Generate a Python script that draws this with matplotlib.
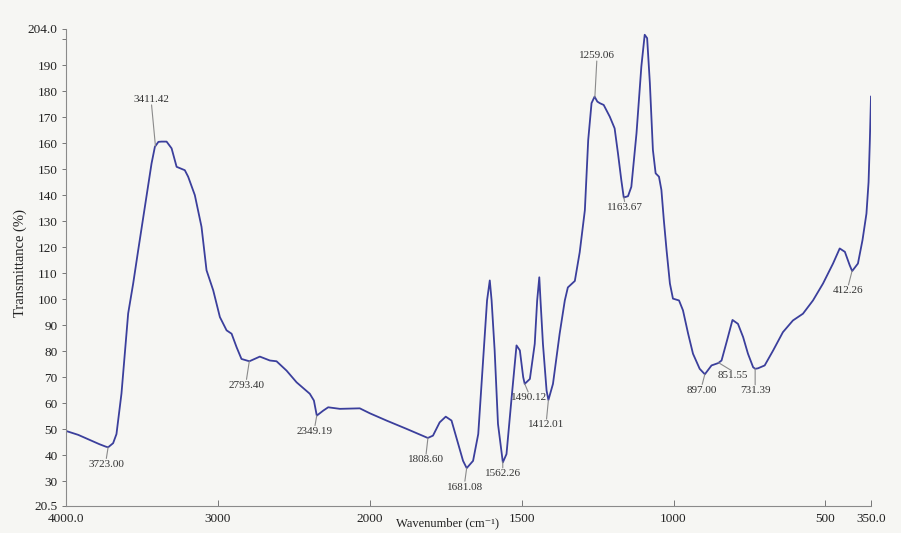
import numpy as np
import matplotlib
matplotlib.use("Agg")
import matplotlib.pyplot as plt

# FTIR spectrum
wavenumber = [4000, 3920, 3850, 3780, 3740, 3723, 3690, 3668, 3635, 3613, 3591, 3558,
              3525, 3481, 3437, 3415, 3392, 3371, 3338, 3305, 3272, 3218, 3196, 3152,
              3108, 3075, 3031, 2987, 2943, 2910, 2877, 2845, 2793, 2724, 2658, 2614,
              2548, 2482, 2395, 2368, 2349, 2307, 2274, 2197, 2066, 2000, 1945, 1879,
              1809, 1792, 1770, 1750, 1731, 1715, 1693, 1681, 1660, 1643, 1632, 1621,
              1614, 1605, 1599, 1589, 1578, 1562, 1550, 1534, 1517, 1506, 1495, 1490,
              1473, 1457, 1449, 1442, 1438, 1430, 1418, 1412, 1397, 1375, 1358, 1348,
              1325, 1309, 1292, 1281, 1270, 1260, 1251, 1243, 1230, 1210, 1194, 1183,
              1172, 1164, 1150, 1139, 1122, 1106, 1095, 1087, 1078, 1068, 1059, 1048,
              1040, 1032, 1023, 1012, 1002, 982, 969, 952, 936, 914, 897, 875, 853, 842,
              824, 806, 788, 771, 755, 738, 731, 722, 700, 672, 640, 607, 574, 541, 508,
              475, 453, 436, 420, 412, 393, 378, 365, 358, 354, 350]
transmittance = [49.3, 47.8, 46.0, 44.2, 43.3, 43.0, 44.6, 48.1, 63.7, 79.1, 94.5, 106.0,
                 118.8, 135.5, 152.2, 158.6, 160.5, 160.6, 160.6, 158.0, 150.9, 149.6, 147.1, 140.0,
                 127.8, 111.1, 103.4, 93.1, 88.0, 86.7, 81.5, 77.0, 76.1, 77.9, 76.4, 76.1,
                 72.5, 68.0, 63.6, 61.0, 55.2, 57.1, 58.4, 57.8, 58.0, 56.1, 53.3, 50.1,
                 46.6, 47.5, 52.6, 54.8, 53.3, 46.8, 37.8, 35.0, 37.8, 48.1, 67.4, 86.7,
                 99.5, 107.2, 99.5, 80.3, 52.0, 37.2, 40.4, 61.0, 82.2, 80.3, 70.0, 67.4,
                 69.3, 82.8, 99.5, 108.4, 99.5, 82.8, 64.8, 61.2, 67.4, 86.7, 99.5, 104.5,
                 107.0, 118.0, 134.2, 161.2, 175.4, 177.9, 176.0, 175.4, 174.7, 170.2, 165.7, 156.1,
                 145.8, 139.1, 139.6, 143.2, 163.8, 189.5, 201.7, 200.4, 183.1, 157.4, 148.4, 147.1,
                 142.0, 130.4, 118.8, 106.0, 100.2, 99.5, 95.7, 86.7, 79.0, 73.2, 71.1, 74.5, 75.4, 76.4,
                 84.1, 92.0, 90.5, 85.4, 79.0, 73.8, 73.2, 73.4, 74.5, 80.3, 87.3, 91.8, 94.4, 99.5, 106.0,
                 113.7, 119.5, 118.2, 113.0, 110.8, 113.7, 122.7, 132.9, 145.0, 160.0, 177.9]

# labelled peaks: position, text offset from the curve (pixels)
peak_pos = [3723.00, 3411.42, 2793.40, 2349.19, 1808.60, 1681.08, 1562.26, 1490.12,
            1412.01, 1259.06, 1163.67, 897.00, 851.55, 731.39, 412.26]
peak_dx = [-2, -4, -3, -2, -2, -2, 0, 4, -2, 2, 1, -3, 14, 0, -4]
peak_dy = [-17, 47, -24, -16, -22, -19, -12, -14, -25, 42, -10, -16, -13, -22, -20]

x_ticks = [4000, 3000, 2000, 1500, 1000, 500, 350]
x_ticklabels = ["4000.0", "3000", "2000", "1500", "1000", "500", "350.0"]
y_ticks = [20.5, 30, 40, 50, 60, 70, 80, 90, 100, 110, 120, 130, 140, 150, 160, 170, 180, 190, 204.0]
y_ticklabels = ["20.5"] + [str(v) for v in y_ticks[1:-1]] + ["204.0"]


# scale change at 2000 cm-1 (upper range compressed by 2)
def fwd(w):
    w = np.asarray(w, dtype=float)
    return np.where(w > 2000, 2000 + (w - 2000) / 2, w)


def inv(p):
    p = np.asarray(p, dtype=float)
    return np.where(p > 2000, 2000 + 2 * (p - 2000), p)


plt.rcParams["font.family"] = ["Liberation Serif", "DejaVu Serif"]

fig = plt.figure(figsize=(9.01, 5.33), dpi=100, facecolor="#f6f6f3")
ax = fig.add_axes([0.0733, 0.051, 0.8934, 0.895])
ax.set_facecolor("#f6f6f3")
ax.set_xscale("function", functions=(fwd, inv))

ax.plot(wavenumber, transmittance, color="#3b3f9c", lw=1.3)

ax.set_xlim(4000, 350)
ax.set_ylim(20.5, 204.0)
ax.set_xticks(x_ticks)
ax.set_xticklabels(x_ticklabels)
ax.set_yticks(y_ticks)
ax.set_yticklabels(y_ticklabels)
ax.set_yticks([200], minor=True)
ax.xaxis.set_minor_locator(matplotlib.ticker.NullLocator())

ax.tick_params(axis="x", direction="in", length=4, width=0.7, color="#777777",
               labelsize=9.5, pad=5, labelcolor="#222222")
ax.tick_params(axis="y", direction="out", length=3, width=0.7, color="#777777",
               labelsize=9.5, pad=3, labelcolor="#222222")
ax.tick_params(axis="y", which="minor", direction="out", length=3, width=0.7, color="#777777")

for side in ["top", "right"]:
    ax.spines[side].set_visible(False)
for side in ["left", "bottom"]:
    ax.spines[side].set_color("#8a8a8a")
    ax.spines[side].set_linewidth(0.8)

ax.set_ylabel("Transmittance (%)", fontsize=10.5, color="#222222")
ax.yaxis.set_label_coords(-0.048, 0.51)
ax.set_xlabel("Wavenumber (cm\u207b\u00b9)", fontsize=9, color="#222222")
ax.xaxis.set_label_coords(0.474, -0.024)

# peak labels with leader lines
wn_sorted = np.array(wavenumber[::-1], dtype=float)
tr_sorted = np.array(transmittance[::-1], dtype=float)
for pos, dx, dy in zip(peak_pos, peak_dx, peak_dy):
    yv = np.interp(pos, wn_sorted, tr_sorted)
    rel = (0.5, 0.0) if dy > 0 else (0.5, 1.0)
    ax.annotate(f"{pos:.2f}", xy=(pos, yv), xytext=(dx, dy), textcoords="offset pixels",
                ha="center", va="center", fontsize=8, color="#333333",
                arrowprops=dict(arrowstyle="-", color="#8a8a8a", lw=0.8,
                                shrinkA=1, shrinkB=0, patchA=None, relpos=rel))

fig.savefig("out.png", dpi=100, facecolor=fig.get_facecolor())
